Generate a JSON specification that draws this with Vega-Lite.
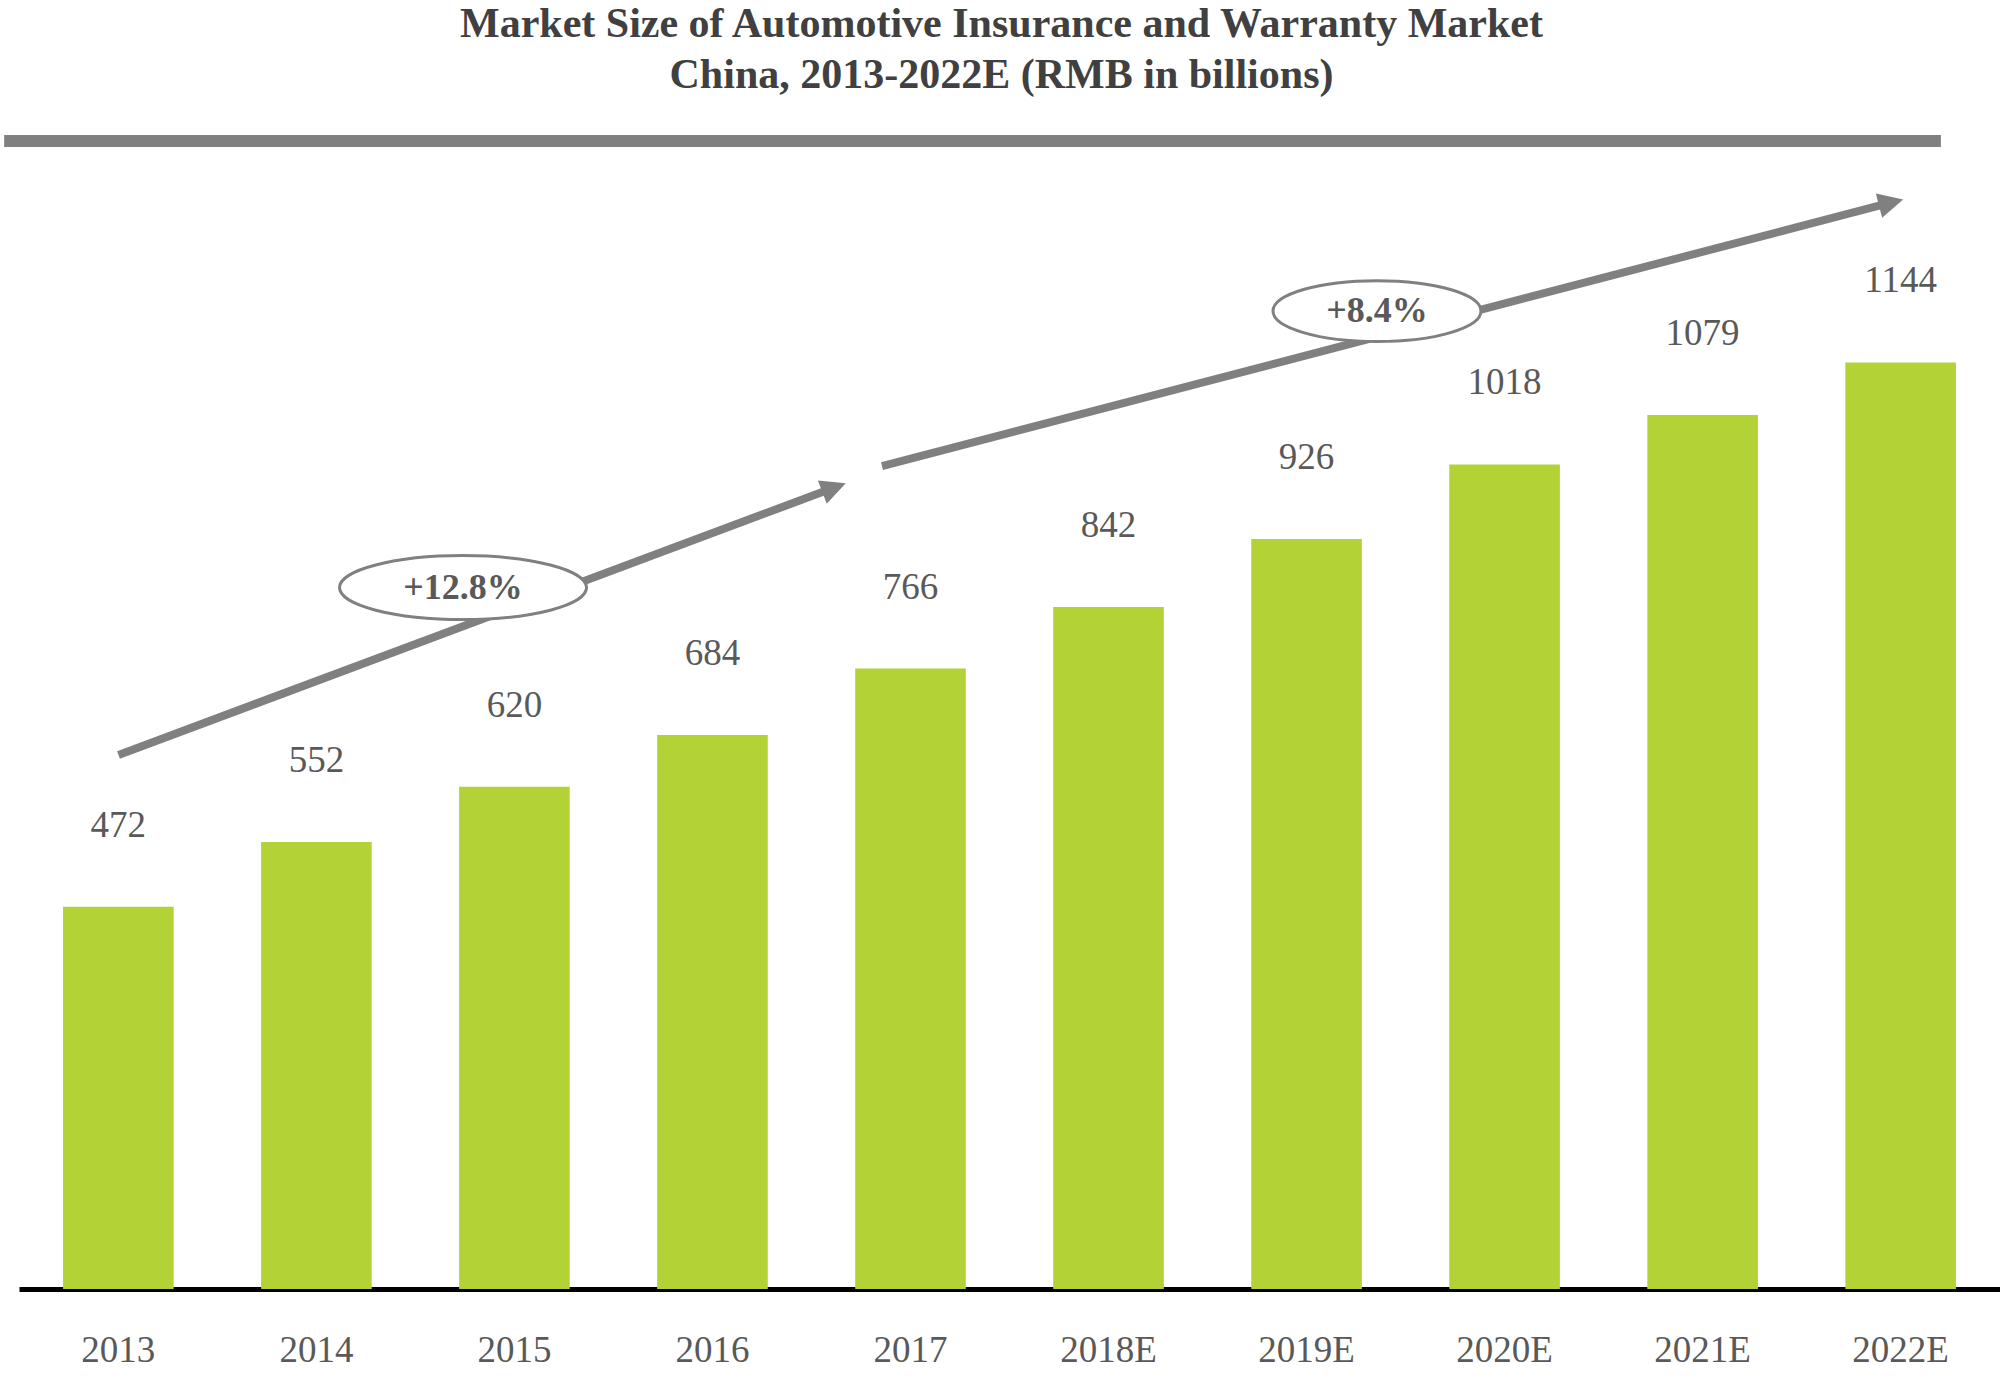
{
  "$schema": "https://vega.github.io/schema/vega-lite/v6.json",
  "width": 1981,
  "height": 1159,
  "autosize": {"type": "none"},
  "padding": {"left": 19, "top": 130, "right": 0, "bottom": 90},
  "background": "white",
  "title": {
    "text": ["Market Size of Automotive Insurance and Warranty Market", "China, 2013-2022E (RMB in billions)"],
    "font": "Liberation Serif",
    "fontSize": 42,
    "fontWeight": "bold",
    "color": "#404040",
    "lineHeight": 51,
    "anchor": "middle",
    "dx": -8,
    "offset": -9,
    "baseline": "bottom"
  },
  "config": {
    "view": {"stroke": null},
    "scale": {"bandPaddingInner": 0.4415, "bandPaddingOuter": 0.2225}
  },
  "datasets": {
    "market": [
      {"year": "2013", "value": 472},
      {"year": "2014", "value": 552},
      {"year": "2015", "value": 620},
      {"year": "2016", "value": 684},
      {"year": "2017", "value": 766},
      {"year": "2018E", "value": 842},
      {"year": "2019E", "value": 926},
      {"year": "2020E", "value": 1018},
      {"year": "2021E", "value": 1079},
      {"year": "2022E", "value": 1144}
    ],
    "topline": [{"i": -0.5775, "i2": 9.204, "v": 1417.3}],
    "arrows": [
      {"period": "2013-2017", "i": 0.0, "v": 659.3, "i2": 3.602, "v2": 988.3},
      {"period": "2017-2022E", "i": 3.856, "v": 1016.0, "i2": 8.94, "v2": 1340.6}
    ],
    "heads": [
      {"period": "2013-2017", "i": 3.673, "v": 994.7},
      {"period": "2017-2022E", "i": 9.0135, "v": 1345.3}
    ],
    "cagr": [
      {"label": "+12.8%", "i": 1.74, "v": 866.0},
      {"label": "+8.4%", "i": 6.356, "v": 1207.4}
    ]
  },
  "resolve": {"scale": {"x": "independent"}},
  "layer": [
    {
      "data": {"name": "market"},
      "layer": [
        {
          "mark": {"type": "bar", "color": "#b3d235"},
          "encoding": {
            "x": {
              "field": "year", "type": "nominal", "sort": null,
              "axis": {
                "title": null, "labelAngle": 0, "ticks": false, "tickSize": 0,
                "domainColor": "#000000", "domainWidth": 5, "grid": false,
                "labelFont": "Liberation Serif", "labelFontSize": 37, "labelColor": "#595959",
                "labelBaseline": "middle", "labelPadding": 61
              }
            },
            "y": {"field": "value", "type": "quantitative", "scale": {"domain": [0, 1431], "nice": false}, "axis": null}
          }
        },
        {
          "mark": {"type": "text", "font": "Liberation Serif", "fontSize": 37, "color": "#595959", "baseline": "middle", "align": "center", "dy": -81},
          "encoding": {
            "x": {"field": "year", "type": "nominal", "sort": null},
            "y": {"field": "value", "type": "quantitative", "scale": {"domain": [0, 1431], "nice": false}},
            "text": {"field": "value", "type": "quantitative"}
          }
        }
      ]
    },
    {
      "layer": [
        {
          "data": {"name": "topline"},
          "mark": {"type": "rule", "color": "#808080", "strokeWidth": 12, "strokeCap": "butt"},
          "encoding": {
            "x": {"field": "i", "type": "quantitative", "scale": {"domain": [-0.5025, 9.5025], "nice": false, "zero": false}, "axis": null},
            "x2": {"field": "i2"},
            "y": {"field": "v", "type": "quantitative", "scale": {"domain": [0, 1431], "nice": false}}
          }
        },
        {
          "data": {"name": "arrows"},
          "mark": {"type": "rule", "color": "#808080", "strokeWidth": 8, "strokeCap": "butt"},
          "encoding": {
            "x": {"field": "i", "type": "quantitative", "scale": {"domain": [-0.5025, 9.5025], "nice": false, "zero": false}, "axis": null},
            "x2": {"field": "i2"},
            "y": {"field": "v", "type": "quantitative", "scale": {"domain": [0, 1431], "nice": false}},
            "y2": {"field": "v2"}
          }
        },
        {
          "data": {"name": "heads"},
          "transform": [{"filter": "datum.period === '2013-2017'"}],
          "mark": {"type": "point", "shape": "M0,0 L-1,-0.5 L-1,0.5 Z", "size": 2500, "filled": true, "color": "#808080", "opacity": 1, "angle": 339.5},
          "encoding": {
            "x": {"field": "i", "type": "quantitative", "scale": {"domain": [-0.5025, 9.5025], "nice": false, "zero": false}, "axis": null},
            "y": {"field": "v", "type": "quantitative", "scale": {"domain": [0, 1431], "nice": false}}
          }
        },
        {
          "data": {"name": "heads"},
          "transform": [{"filter": "datum.period === '2017-2022E'"}],
          "mark": {"type": "point", "shape": "M0,0 L-1,-0.5 L-1,0.5 Z", "size": 2500, "filled": true, "color": "#808080", "opacity": 1, "angle": 345.4},
          "encoding": {
            "x": {"field": "i", "type": "quantitative", "scale": {"domain": [-0.5025, 9.5025], "nice": false, "zero": false}, "axis": null},
            "y": {"field": "v", "type": "quantitative", "scale": {"domain": [0, 1431], "nice": false}}
          }
        },
        {
          "data": {"name": "cagr"},
          "transform": [{"filter": "datum.label === '+12.8%'"}],
          "mark": {"type": "point", "shape": "M-1,0 C-1,-0.143 -0.552,-0.259 0,-0.259 C0.552,-0.259 1,-0.143 1,0 C1,0.143 0.552,0.259 0,0.259 C-0.552,0.259 -1,0.143 -1,0 Z", "size": 61009, "filled": false, "fill": "white", "fillOpacity": 1, "stroke": "#808080", "strokeWidth": 3, "opacity": 1},
          "encoding": {
            "x": {"field": "i", "type": "quantitative", "scale": {"domain": [-0.5025, 9.5025], "nice": false, "zero": false}, "axis": null},
            "y": {"field": "v", "type": "quantitative", "scale": {"domain": [0, 1431], "nice": false}}
          }
        },
        {
          "data": {"name": "cagr"},
          "transform": [{"filter": "datum.label === '+8.4%'"}],
          "mark": {"type": "point", "shape": "M-1,0 C-1,-0.162 -0.552,-0.293 0,-0.293 C0.552,-0.293 1,-0.162 1,0 C1,0.162 0.552,0.293 0,0.293 C-0.552,0.293 -1,0.162 -1,0 Z", "size": 43264, "filled": false, "fill": "white", "fillOpacity": 1, "stroke": "#808080", "strokeWidth": 3, "opacity": 1},
          "encoding": {
            "x": {"field": "i", "type": "quantitative", "scale": {"domain": [-0.5025, 9.5025], "nice": false, "zero": false}, "axis": null},
            "y": {"field": "v", "type": "quantitative", "scale": {"domain": [0, 1431], "nice": false}}
          }
        },
        {
          "data": {"name": "cagr"},
          "mark": {"type": "text", "font": "Liberation Serif", "fontSize": 36, "fontWeight": "bold", "color": "#595959", "baseline": "middle", "align": "center"},
          "encoding": {
            "x": {"field": "i", "type": "quantitative", "scale": {"domain": [-0.5025, 9.5025], "nice": false, "zero": false}, "axis": null},
            "y": {"field": "v", "type": "quantitative", "scale": {"domain": [0, 1431], "nice": false}},
            "text": {"field": "label", "type": "nominal"}
          }
        }
      ]
    }
  ]
}
